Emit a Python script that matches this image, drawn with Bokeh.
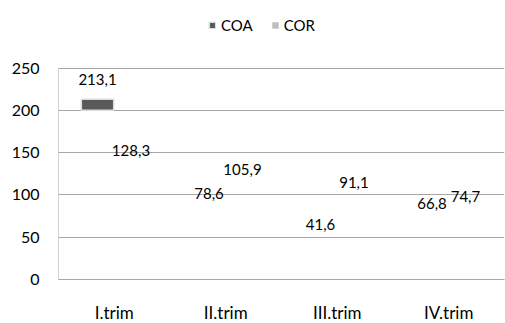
from bokeh.plotting import figure
from bokeh.models import ColumnDataSource, FactorRange, Legend, LegendItem, FixedTicker, Range1d
from bokeh.transform import dodge
from bokeh.core.properties import value
from bokeh.embed import file_html
from bokeh.resources import INLINE

# quarterly values
quarters = ["I.trim", "II.trim", "III.trim", "IV.trim"]
coa = [213.1, 78.6, 41.6, 66.8]
cor = [128.3, 105.9, 91.1, 74.7]
y_ticks = [0, 50, 100, 150, 200, 250]
y_max = 250

# bars are drawn from this baseline, so only the part above it shows
bar_base = 200

FONT = "Lato"
GRID = "#a6a6a6"
COA_COLOR = "#595959"
COR_COLOR = "#bfbfbf"
EDGE = "#dcdcdc"

def fmt(v):
    return f"{v:.1f}".replace(".", ",")

src = ColumnDataSource(dict(
    q=quarters,
    coa=coa,
    cor=cor,
    coa_bottom=[min(v, bar_base) for v in coa],
    cor_bottom=[min(v, bar_base) for v in cor],
    coa_edge=[EDGE if v > bar_base else None for v in coa],
    cor_edge=[EDGE if v > bar_base else None for v in cor],
    coa_lbl=[fmt(v) for v in coa],
    cor_lbl=[fmt(v) for v in cor],
))

# the frame reaches up to the top of the page; the room above the
# 250 gridline holds the legend
p = figure(
    frame_width=446, frame_height=274,
    x_range=FactorRange(factors=quarters, range_padding=0),
    y_range=Range1d(0, 324),
    output_backend="svg", toolbar_location=None,
    min_border_left=58, min_border_right=1, min_border_top=5, min_border_bottom=5,
)
p.outline_line_color = None
p.background_fill_color = "white"
p.border_fill_color = "white"

r_coa = p.vbar(x=dodge("q", -0.15, range=p.x_range), top="coa", bottom="coa_bottom",
               width=0.29, source=src, fill_color=COA_COLOR,
               line_color="coa_edge", line_width=1.5)
r_cor = p.vbar(x=dodge("q", 0.15, range=p.x_range), top="cor", bottom="cor_bottom",
               width=0.29, source=src, fill_color=COR_COLOR,
               line_color="cor_edge", line_width=1.5)

for col, lbl, off in (("coa", "coa_lbl", -0.15), ("cor", "cor_lbl", 0.15)):
    p.text(x=dodge("q", off, range=p.x_range), y=col, text=lbl, source=src,
           y_offset=-20, text_align="center", text_baseline="middle",
           text_font=value(FONT), text_font_size="15px", text_color="#000000")

# vertical axis line, only up to the top tick
p.segment(x0=dodge("q", -0.5, range=p.x_range), y0=0,
          x1=dodge("q", -0.5, range=p.x_range), y1=y_max,
          source=ColumnDataSource(dict(q=quarters[:1])),
          line_color=GRID, line_width=1)

# axes and grid
p.yaxis.ticker = FixedTicker(ticks=y_ticks)
p.yaxis.major_tick_line_color = None
p.yaxis.minor_tick_line_color = None
p.yaxis.axis_line_color = None
p.yaxis.major_label_text_font = FONT
p.yaxis.major_label_text_font_size = "16px"
p.yaxis.major_label_text_color = "#000000"
p.yaxis.major_label_standoff = 13

p.xaxis.major_tick_line_color = None
p.xaxis.axis_line_color = GRID
p.xaxis.major_label_text_font = FONT
p.xaxis.major_label_text_font_size = "17px"
p.xaxis.major_label_text_color = "#000000"
p.xaxis.major_label_standoff = 16

p.xgrid.grid_line_color = None
p.ygrid.grid_line_color = GRID
p.ygrid.grid_line_width = 1

legend = Legend(
    items=[LegendItem(label="COA", renderers=[r_coa]),
           LegendItem(label="COR", renderers=[r_cor])],
    orientation="horizontal", location=(150, 245),
    label_text_font=FONT, label_text_font_size="15px", label_text_color="#000000",
    glyph_width=8, glyph_height=8, spacing=18, label_standoff=5,
    border_line_color=None, background_fill_alpha=0,
    padding=2, margin=0,
)
p.add_layout(legend, "center")

open("out.html", "w").write(file_html(p, INLINE))
